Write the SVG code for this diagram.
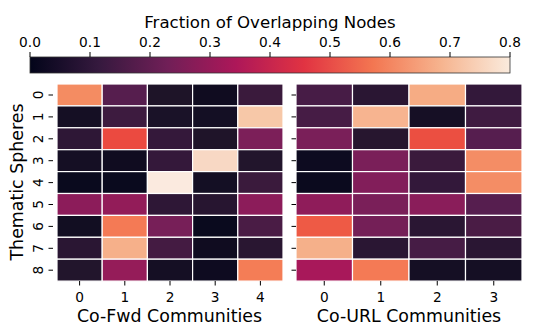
<svg xmlns="http://www.w3.org/2000/svg" width="538" height="324" viewBox="0 0 538 324">
<defs>
<linearGradient id="rocket" x1="30" y1="0" x2="510" y2="0" gradientUnits="userSpaceOnUse">
<stop offset="0" stop-color="#03051a"/>
<stop offset="0.143" stop-color="#35193e"/>
<stop offset="0.286" stop-color="#701f57"/>
<stop offset="0.429" stop-color="#ad1759"/>
<stop offset="0.571" stop-color="#e13342"/>
<stop offset="0.714" stop-color="#f37651"/>
<stop offset="0.857" stop-color="#f6b48f"/>
<stop offset="1" stop-color="#faebdd"/>
</linearGradient>
</defs>
<style>
text{font-family:"DejaVu Sans",sans-serif;fill:#000}
.tk{font-size:13.7px}
.lab{font-size:17.4px}
.cells rect{stroke:#fff;stroke-width:1.2}
.tick{stroke:#000;stroke-width:1}
</style>
<rect width="538" height="324" fill="#fff"/>
<g id="colorbar">
<text x="270" y="28" text-anchor="middle" style="font-size:16.6px">Fraction of Overlapping Nodes</text>
<rect x="30" y="57" width="480" height="16" fill="url(#rocket)" stroke="#333" stroke-width="0.8"/>
<g class="tick">
<line x1="30" y1="52" x2="30" y2="57"/><line x1="90" y1="52" x2="90" y2="57"/><line x1="150" y1="52" x2="150" y2="57"/><line x1="210" y1="52" x2="210" y2="57"/><line x1="270" y1="52" x2="270" y2="57"/><line x1="330" y1="52" x2="330" y2="57"/><line x1="390" y1="52" x2="390" y2="57"/><line x1="450" y1="52" x2="450" y2="57"/><line x1="510" y1="52" x2="510" y2="57"/>
</g>
<g class="tk" text-anchor="middle">
<text x="30" y="46.5">0.0</text><text x="90" y="46.5">0.1</text><text x="150" y="46.5">0.2</text><text x="210" y="46.5">0.3</text><text x="270" y="46.5">0.4</text><text x="330" y="46.5">0.5</text><text x="390" y="46.5">0.6</text><text x="450" y="46.5">0.7</text><text x="510" y="46.5">0.8</text>
</g>
</g>
<g id="heatmap-cofwd">
<g class="cells">
<rect x="57" y="84" width="45.2" height="21.9" fill="#f48c62"/><rect x="102.2" y="84" width="45.2" height="21.9" fill="#561e4e"/><rect x="147.4" y="84" width="45.2" height="21.9" fill="#1e1428"/><rect x="192.6" y="84" width="45.2" height="21.9" fill="#100c20"/><rect x="237.8" y="84" width="45.2" height="21.9" fill="#3a1a3c"/>
<rect x="57" y="105.9" width="45.2" height="21.9" fill="#150f24"/><rect x="102.2" y="105.9" width="45.2" height="21.9" fill="#3d1b3f"/><rect x="147.4" y="105.9" width="45.2" height="21.9" fill="#1a1228"/><rect x="192.6" y="105.9" width="45.2" height="21.9" fill="#140f24"/><rect x="237.8" y="105.9" width="45.2" height="21.9" fill="#f7c8a8"/>
<rect x="57" y="127.8" width="45.2" height="21.9" fill="#2e1736"/><rect x="102.2" y="127.8" width="45.2" height="21.9" fill="#eb4a40"/><rect x="147.4" y="127.8" width="45.2" height="21.9" fill="#34183a"/><rect x="192.6" y="127.8" width="45.2" height="21.9" fill="#1f1429"/><rect x="237.8" y="127.8" width="45.2" height="21.9" fill="#7c1f59"/>
<rect x="57" y="149.7" width="45.2" height="21.9" fill="#150f24"/><rect x="102.2" y="149.7" width="45.2" height="21.9" fill="#100c20"/><rect x="147.4" y="149.7" width="45.2" height="21.9" fill="#34183a"/><rect x="192.6" y="149.7" width="45.2" height="21.9" fill="#f8d8c4"/><rect x="237.8" y="149.7" width="45.2" height="21.9" fill="#22152c"/>
<rect x="57" y="171.6" width="45.2" height="21.9" fill="#0a0a1e"/><rect x="102.2" y="171.6" width="45.2" height="21.9" fill="#0a0a1e"/><rect x="147.4" y="171.6" width="45.2" height="21.9" fill="#fbeadf"/><rect x="192.6" y="171.6" width="45.2" height="21.9" fill="#140f24"/><rect x="237.8" y="171.6" width="45.2" height="21.9" fill="#3a1a3c"/>
<rect x="57" y="193.5" width="45.2" height="21.9" fill="#8c1c5a"/><rect x="102.2" y="193.5" width="45.2" height="21.9" fill="#931c59"/><rect x="147.4" y="193.5" width="45.2" height="21.9" fill="#2e1736"/><rect x="192.6" y="193.5" width="45.2" height="21.9" fill="#271530"/><rect x="237.8" y="193.5" width="45.2" height="21.9" fill="#8c1c5a"/>
<rect x="57" y="215.4" width="45.2" height="21.9" fill="#120e22"/><rect x="102.2" y="215.4" width="45.2" height="21.9" fill="#f47a55"/><rect x="147.4" y="215.4" width="45.2" height="21.9" fill="#771f58"/><rect x="192.6" y="215.4" width="45.2" height="21.9" fill="#0a0a1e"/><rect x="237.8" y="215.4" width="45.2" height="21.9" fill="#4a1c45"/>
<rect x="57" y="237.3" width="45.2" height="21.9" fill="#2a1633"/><rect x="102.2" y="237.3" width="45.2" height="21.9" fill="#f6b08a"/><rect x="147.4" y="237.3" width="45.2" height="21.9" fill="#441b42"/><rect x="192.6" y="237.3" width="45.2" height="21.9" fill="#100c20"/><rect x="237.8" y="237.3" width="45.2" height="21.9" fill="#291631"/>
<rect x="57" y="259.2" width="45.2" height="21.9" fill="#22152c"/><rect x="102.2" y="259.2" width="45.2" height="21.9" fill="#951c59"/><rect x="147.4" y="259.2" width="45.2" height="21.9" fill="#150f24"/><rect x="192.6" y="259.2" width="45.2" height="21.9" fill="#0e0b20"/><rect x="237.8" y="259.2" width="45.2" height="21.9" fill="#f47d56"/>
</g>
<g class="tick">
<line x1="48.5" y1="95" x2="53" y2="95"/><line x1="48.5" y1="116.9" x2="53" y2="116.9"/><line x1="48.5" y1="138.8" x2="53" y2="138.8"/><line x1="48.5" y1="160.7" x2="53" y2="160.7"/><line x1="48.5" y1="182.6" x2="53" y2="182.6"/><line x1="48.5" y1="204.5" x2="53" y2="204.5"/><line x1="48.5" y1="226.4" x2="53" y2="226.4"/><line x1="48.5" y1="248.3" x2="53" y2="248.3"/><line x1="48.5" y1="270.2" x2="53" y2="270.2"/>
<line x1="79.6" y1="281" x2="79.6" y2="285.5"/><line x1="124.8" y1="281" x2="124.8" y2="285.5"/><line x1="170" y1="281" x2="170" y2="285.5"/><line x1="215.2" y1="281" x2="215.2" y2="285.5"/><line x1="260.4" y1="281" x2="260.4" y2="285.5"/>
</g>
<g class="tk" text-anchor="middle">
<text transform="translate(43,95) rotate(-90)">0</text><text transform="translate(43,116.9) rotate(-90)">1</text><text transform="translate(43,138.8) rotate(-90)">2</text><text transform="translate(43,160.7) rotate(-90)">3</text><text transform="translate(43,182.6) rotate(-90)">4</text><text transform="translate(43,204.5) rotate(-90)">5</text><text transform="translate(43,226.4) rotate(-90)">6</text><text transform="translate(43,248.3) rotate(-90)">7</text><text transform="translate(43,270.2) rotate(-90)">8</text>
<text x="79.6" y="302">0</text><text x="124.8" y="302">1</text><text x="170" y="302">2</text><text x="215.2" y="302">3</text><text x="260.4" y="302">4</text>
</g>
<text class="lab" x="169.5" y="321.5" text-anchor="middle">Co-Fwd Communities</text>
<text class="lab" transform="translate(22.5,182) rotate(-90)" text-anchor="middle">Thematic Spheres</text>
</g>
<g id="heatmap-courl">
<g class="cells">
<rect x="296" y="84" width="56.5" height="21.9" fill="#471c46"/><rect x="352.5" y="84" width="56.5" height="21.9" fill="#2a1633"/><rect x="409" y="84" width="56.5" height="21.9" fill="#f6ac84"/><rect x="465.5" y="84" width="56.5" height="21.9" fill="#33183a"/>
<rect x="296" y="105.9" width="56.5" height="21.9" fill="#461c45"/><rect x="352.5" y="105.9" width="56.5" height="21.9" fill="#f7b490"/><rect x="409" y="105.9" width="56.5" height="21.9" fill="#160f25"/><rect x="465.5" y="105.9" width="56.5" height="21.9" fill="#3f1b41"/>
<rect x="296" y="127.8" width="56.5" height="21.9" fill="#7a1f59"/><rect x="352.5" y="127.8" width="56.5" height="21.9" fill="#27162f"/><rect x="409" y="127.8" width="56.5" height="21.9" fill="#eb4f41"/><rect x="465.5" y="127.8" width="56.5" height="21.9" fill="#561e4f"/>
<rect x="296" y="149.7" width="56.5" height="21.9" fill="#0d0b20"/><rect x="352.5" y="149.7" width="56.5" height="21.9" fill="#7a1f59"/><rect x="409" y="149.7" width="56.5" height="21.9" fill="#3a1a3c"/><rect x="465.5" y="149.7" width="56.5" height="21.9" fill="#f48d65"/>
<rect x="296" y="171.6" width="56.5" height="21.9" fill="#0b0a1e"/><rect x="352.5" y="171.6" width="56.5" height="21.9" fill="#821e5a"/><rect x="409" y="171.6" width="56.5" height="21.9" fill="#33183a"/><rect x="465.5" y="171.6" width="56.5" height="21.9" fill="#f48d65"/>
<rect x="296" y="193.5" width="56.5" height="21.9" fill="#8f1c5a"/><rect x="352.5" y="193.5" width="56.5" height="21.9" fill="#7a1f59"/><rect x="409" y="193.5" width="56.5" height="21.9" fill="#8a1d5a"/><rect x="465.5" y="193.5" width="56.5" height="21.9" fill="#561e4f"/>
<rect x="296" y="215.4" width="56.5" height="21.9" fill="#ee5a45"/><rect x="352.5" y="215.4" width="56.5" height="21.9" fill="#741f57"/><rect x="409" y="215.4" width="56.5" height="21.9" fill="#2a1633"/><rect x="465.5" y="215.4" width="56.5" height="21.9" fill="#4a1c45"/>
<rect x="296" y="237.3" width="56.5" height="21.9" fill="#f5b08a"/><rect x="352.5" y="237.3" width="56.5" height="21.9" fill="#2a1633"/><rect x="409" y="237.3" width="56.5" height="21.9" fill="#461c45"/><rect x="465.5" y="237.3" width="56.5" height="21.9" fill="#2a1633"/>
<rect x="296" y="259.2" width="56.5" height="21.9" fill="#a8185a"/><rect x="352.5" y="259.2" width="56.5" height="21.9" fill="#f47a55"/><rect x="409" y="259.2" width="56.5" height="21.9" fill="#150f24"/><rect x="465.5" y="259.2" width="56.5" height="21.9" fill="#150f24"/>
</g>
<g class="tick">
<line x1="291.5" y1="95" x2="296" y2="95"/><line x1="291.5" y1="116.9" x2="296" y2="116.9"/><line x1="291.5" y1="138.8" x2="296" y2="138.8"/><line x1="291.5" y1="160.7" x2="296" y2="160.7"/><line x1="291.5" y1="182.6" x2="296" y2="182.6"/><line x1="291.5" y1="204.5" x2="296" y2="204.5"/><line x1="291.5" y1="226.4" x2="296" y2="226.4"/><line x1="291.5" y1="248.3" x2="296" y2="248.3"/><line x1="291.5" y1="270.2" x2="296" y2="270.2"/>
<line x1="324.25" y1="281" x2="324.25" y2="285.5"/><line x1="380.75" y1="281" x2="380.75" y2="285.5"/><line x1="437.25" y1="281" x2="437.25" y2="285.5"/><line x1="493.75" y1="281" x2="493.75" y2="285.5"/>
</g>
<g class="tk" text-anchor="middle">
<text x="324.25" y="302">0</text><text x="380.75" y="302">1</text><text x="437.25" y="302">2</text><text x="493.75" y="302">3</text>
</g>
<text class="lab" x="409" y="321.5" text-anchor="middle">Co-URL Communities</text>
</g>
</svg>
